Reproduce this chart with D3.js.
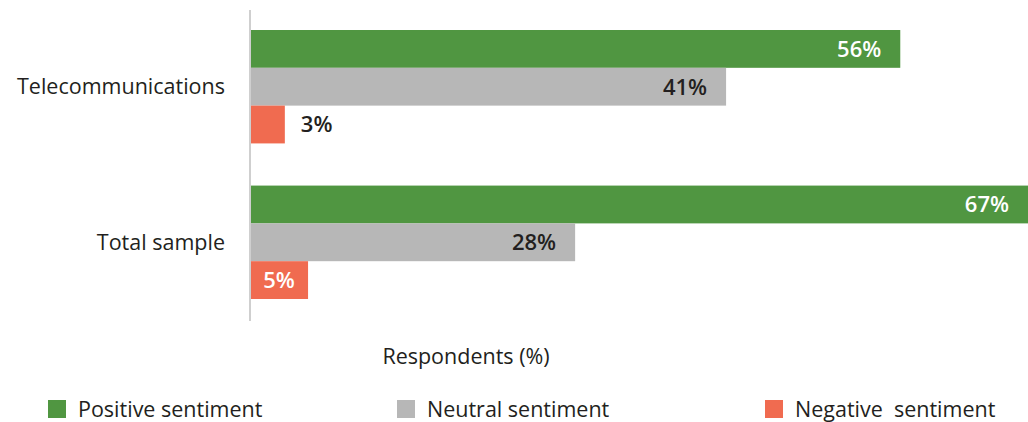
<!DOCTYPE html>
<html>
<head>
<meta charset="utf-8">
<script src="https://cdn.jsdelivr.net/npm/d3@7"></script>
<style>
  html, body { margin: 0; padding: 0; background: #fff; }
  svg { display: block; font-family: "Open Sans", "Noto Sans", sans-serif; }
</style>
</head>
<body>
<svg id="chart" width="1028" height="422"></svg>
<script>
// Survey sentiment by group
const categories = ["Telecommunications", "Total sample"];
const seriesNames = ["Positive sentiment", "Neutral sentiment", "Negative sentiment"];
const positive = [56, 67];
const neutral = [41, 28];
const negative = [3, 5];
const axisTitle = "Respondents (%)";

const colors = ["#509641", "#b7b7b7", "#f06b50"];
const seriesValues = [positive, neutral, negative];

const svg = d3.select("#chart");
const x0 = 250;

const x = d3.scaleLinear().domain([0, 67]).range([x0, 1028]);

const y = d3.scaleBand()
  .domain(categories)
  .range([9, 320])
  .paddingInner(0.271)
  .paddingOuter(0.135);

const ySeries = d3.scaleBand()
  .domain(seriesNames)
  .range([0, y.bandwidth()]);

const rows = categories.map((c, i) => ({
  category: c,
  bars: seriesNames.map((s, j) => ({ series: s, value: seriesValues[j][i], color: colors[j], idx: j }))
}));

const groups = svg.selectAll("g.group")
  .data(rows)
  .join("g")
  .attr("class", "group")
  .attr("transform", d => `translate(0,${y(d.category)})`);

groups.selectAll("rect")
  .data(d => d.bars)
  .join("rect")
  .attr("x", x0)
  .attr("y", d => ySeries(d.series))
  .attr("width", d => x(d.value) - x0)
  .attr("height", ySeries.bandwidth())
  .attr("fill", d => d.color);

// value labels: inside the bar end when it fits, centred in short bars, outside when tiny
groups.selectAll("text.val")
  .data(d => d.bars)
  .join("text")
  .attr("class", "val")
  .attr("y", d => ySeries(d.series) + ySeries.bandwidth() / 2)
  .attr("dy", "0.36em")
  .attr("font-size", 22)
  .attr("font-weight", 600)
  .each(function(d) {
    const w = x(d.value) - x0;
    const t = d3.select(this);
    if (w < 40) {
      t.attr("x", x(d.value) + 16).attr("text-anchor", "start").attr("fill", "#231f20");
    } else if (w < 70) {
      t.attr("x", x0 + w / 2).attr("text-anchor", "middle").attr("fill", "#fff");
    } else {
      t.attr("x", x(d.value) - 19).attr("text-anchor", "end")
        .attr("fill", d.idx === 1 ? "#231f20" : "#fff");
    }
  })
  .text(d => d.value + "%");

// category labels
svg.selectAll("text.cat")
  .data(categories)
  .join("text")
  .attr("class", "cat")
  .attr("x", 225)
  .attr("y", d => y(d) + y.bandwidth() / 2)
  .attr("dy", "0.36em")
  .attr("text-anchor", "end")
  .attr("font-size", 21.5)
  .attr("fill", "#231f20")
  .text(d => d);

// vertical baseline
svg.append("line")
  .attr("x1", x0).attr("x2", x0)
  .attr("y1", 10).attr("y2", 321)
  .attr("stroke", "#cfcfcf")
  .attr("stroke-width", 2);

// axis title
svg.append("text")
  .attr("x", 466)
  .attr("y", 356)
  .attr("dy", "0.36em")
  .attr("text-anchor", "middle")
  .attr("font-size", 21.5)
  .attr("fill", "#231f20")
  .text(axisTitle);

// legend
const legendX = [48, 397, 765];
const legend = svg.selectAll("g.legend")
  .data(seriesNames)
  .join("g")
  .attr("class", "legend")
  .attr("transform", (d, i) => `translate(${legendX[i]},400)`);

legend.append("rect")
  .attr("width", 18).attr("height", 18)
  .attr("fill", (d, i) => colors[i]);

legend.append("text")
  .attr("x", 30)
  .attr("y", 9)
  .attr("dy", "0.36em")
  .attr("font-size", 21.5)
  .attr("fill", "#231f20")
  .attr("xml:space", "preserve")
  .text((d, i) => i === 2 ? "Negative  sentiment" : d);
</script>
</body>
</html>
